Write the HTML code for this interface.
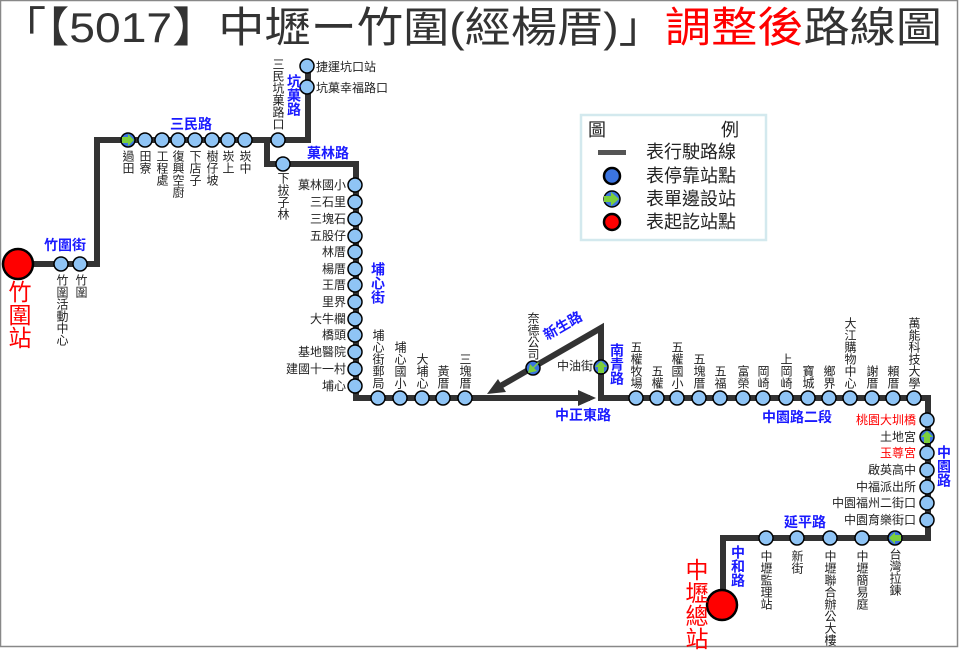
<!DOCTYPE html>
<html><head><meta charset="utf-8"><style>
body{margin:0;background:#fff}
#w{position:relative;width:960px;height:650px;overflow:hidden;background:#fff;font-family:"Liberation Sans","Noto Sans CJK TC",sans-serif;color:#222}
svg{position:absolute;left:0;top:0}
.v{position:absolute;writing-mode:vertical-rl;font-size:12px;line-height:12px;white-space:nowrap}
.h{position:absolute;font-size:12px;line-height:14px;white-space:nowrap}
.r{text-align:right}
.b{color:#1a1aff;font-weight:bold;font-size:14px;line-height:15px}
.red{color:#f00}
</style></head><body><div id="w">
<div style="position:absolute;left:0;top:4px;font-size:42px;line-height:48px;color:#333;white-space:nowrap;transform:scaleX(1.1);transform-origin:left top">「【5017】中壢ー竹圍(經楊厝)」<span style="color:#f00">調整後</span>路線圖</div>
<svg width="960" height="650">
<rect x="0.5" y="0.5" width="957" height="646" fill="none" stroke="#888" stroke-width="1.5"/>
<g fill="none" stroke="#333" stroke-width="6" stroke-linejoin="miter">
<polyline points="18,264 97,264 97,140 308,140 308,66"/>
<polyline points="267,140 267,164 356,164 356,398 590,398"/>
<polyline points="497,388 601,328 601,398 928,398 928,538 723,538 723,605"/>
</g>
<polygon points="596,398 578,390 578,406" fill="#333"/>
<polygon points="487,394 498,379 506,392" fill="#333"/>
<g fill="#8fc4f5" stroke="#000" stroke-width="1.5">
<circle cx="61" cy="264" r="7"/><circle cx="80" cy="264" r="7"/>
<circle cx="145" cy="140" r="7"/><circle cx="162" cy="140" r="7"/><circle cx="178" cy="140" r="7"/><circle cx="195" cy="140" r="7"/><circle cx="212" cy="140" r="7"/><circle cx="228" cy="140" r="7"/><circle cx="245" cy="140" r="7"/>
<circle cx="278" cy="140" r="7"/><circle cx="283" cy="164" r="7"/>
<circle cx="307" cy="66" r="7"/><circle cx="307" cy="87" r="7"/>
<circle cx="355" cy="185" r="7"/><circle cx="355" cy="202" r="7"/><circle cx="355" cy="219" r="7"/><circle cx="355" cy="236" r="7"/><circle cx="355" cy="252" r="7"/><circle cx="355" cy="269" r="7"/><circle cx="355" cy="285" r="7"/><circle cx="355" cy="302" r="7"/><circle cx="355" cy="319" r="7"/><circle cx="355" cy="335" r="7"/><circle cx="355" cy="352" r="7"/><circle cx="355" cy="369" r="7"/><circle cx="355" cy="386" r="7"/>
<circle cx="378" cy="398" r="7"/><circle cx="400" cy="398" r="7"/><circle cx="422" cy="398" r="7"/><circle cx="443" cy="398" r="7"/><circle cx="465" cy="398" r="7"/>
<circle cx="636" cy="398" r="7"/><circle cx="657" cy="398" r="7"/><circle cx="677" cy="398" r="7"/><circle cx="699" cy="398" r="7"/><circle cx="720" cy="398" r="7"/><circle cx="743" cy="398" r="7"/><circle cx="763" cy="398" r="7"/><circle cx="786" cy="398" r="7"/><circle cx="808" cy="398" r="7"/><circle cx="829" cy="398" r="7"/><circle cx="850" cy="398" r="7"/><circle cx="872" cy="398" r="7"/><circle cx="893" cy="398" r="7"/><circle cx="914" cy="398" r="7"/>
<circle cx="927" cy="420" r="7"/><circle cx="927" cy="453" r="7"/><circle cx="927" cy="470" r="7"/><circle cx="927" cy="487" r="7"/><circle cx="927" cy="503" r="7"/><circle cx="927" cy="520" r="7"/>
<circle cx="862" cy="538" r="7"/><circle cx="830" cy="538" r="7"/><circle cx="797" cy="538" r="7"/><circle cx="766" cy="538" r="7"/>
</g>
<g stroke="#000" stroke-width="1.5" fill="#3b74e0">
<circle cx="128" cy="140" r="7"/><circle cx="533" cy="368" r="7"/><circle cx="601" cy="367" r="7"/><circle cx="927" cy="437" r="7"/><circle cx="895" cy="538" r="7"/>
</g>
<g fill="#7ccf3c">
<polygon points="122,137 128,137 128,134 134,140 128,146 128,143 122,143"/>
<polygon points="598,373 598,367 595,367 601,361 607,367 604,367 604,373"/>
<polygon points="924,443 924,437 921,437 927,431 933,437 930,437 930,443"/>
<polygon points="901,535 895,535 895,532 889,538 895,544 895,541 901,541"/>
<polygon points="538,362 533,367 530,364 528,373 537,371 534,368 539,363"/>
</g>
<g stroke="#000" stroke-width="2.5" fill="#f00">
<circle cx="18" cy="264" r="15"/><circle cx="722" cy="605" r="15"/>
</g>
<rect x="581" y="115" width="185" height="125" fill="#fff" stroke="#d3e9ee" stroke-width="2.5"/>
<rect x="598" y="150" width="28" height="5" fill="#555"/>
<circle cx="612" cy="176" r="8" fill="#3b74e0" stroke="#000" stroke-width="2.5"/>
<circle cx="612" cy="199" r="8" fill="#3b74e0" stroke="#000" stroke-width="1.5"/>
<polygon points="604,196 611,196 611,192 619,199 611,206 611,202 604,202" fill="#7ccf3c"/>
<circle cx="612" cy="222" r="8" fill="#f00" stroke="#000" stroke-width="2.5"/>
</svg>
<div class="h" style="left:588px;top:120px;font-size:18px;line-height:20px">圖</div>
<div class="h" style="left:721px;top:120px;font-size:18px;line-height:20px">例</div>
<div class="h" style="left:646px;top:142px;font-size:18px;line-height:20px">表行駛路線</div>
<div class="h" style="left:646px;top:166px;font-size:18px;line-height:20px">表停靠站點</div>
<div class="h" style="left:646px;top:189px;font-size:18px;line-height:20px">表單邊設站</div>
<div class="h" style="left:646px;top:212px;font-size:18px;line-height:20px">表起訖站點</div>

<div class="v red" style="left:6px;top:280px;font-size:23px;line-height:24px">竹圍站</div>
<div class="h b" style="left:44px;top:238px">竹圍街</div>
<div class="v" style="left:56px;top:274px">竹圍活動中心</div>
<div class="v" style="left:75px;top:274px">竹圍</div>
<div class="h b" style="left:170px;top:117px">三民路</div>
<div class="v" style="left:122px;top:150px">過田</div>
<div class="v" style="left:139px;top:150px">田寮</div>
<div class="v" style="left:156px;top:150px">工程處</div>
<div class="v" style="left:172px;top:150px">復興空廚</div>
<div class="v" style="left:189px;top:150px">下店子</div>
<div class="v" style="left:206px;top:150px">樹仔坡</div>
<div class="v" style="left:222px;top:150px">崁上</div>
<div class="v" style="left:239px;top:150px">崁中</div>
<div class="v" style="left:272px;top:58px">三民坑菓路口</div>
<div class="v b" style="left:286px;top:74px;line-height:15px">坑菓路</div>
<div class="h" style="left:316px;top:60px">捷運坑口站</div>
<div class="h" style="left:316px;top:81px">坑菓幸福路口</div>
<div class="h b" style="left:307px;top:146px">菓林路</div>
<div class="v" style="left:277px;top:172px">下拔子林</div>
<div class="h r" style="right:614px;top:178px">菓林國小</div>
<div class="h r" style="right:614px;top:195px">三石里</div>
<div class="h r" style="right:614px;top:212px">三塊石</div>
<div class="h r" style="right:614px;top:229px">五股仔</div>
<div class="h r" style="right:614px;top:245px">林厝</div>
<div class="h r" style="right:614px;top:262px">楊厝</div>
<div class="h r" style="right:614px;top:278px">王厝</div>
<div class="h r" style="right:614px;top:295px">里界</div>
<div class="h r" style="right:614px;top:312px">大牛欄</div>
<div class="h r" style="right:614px;top:328px">橋頭</div>
<div class="h r" style="right:614px;top:345px">基地醫院</div>
<div class="h r" style="right:614px;top:362px">建國十一村</div>
<div class="h r" style="right:614px;top:379px">埔心</div>
<div class="v b" style="left:370px;top:262px;line-height:15px">埔心街</div>
<div class="v" style="left:372px;bottom:261px">埔心街郵局</div>
<div class="v" style="left:394px;bottom:261px">埔心國小</div>
<div class="v" style="left:416px;bottom:261px">大埔心</div>
<div class="v" style="left:437px;bottom:261px">黃厝</div>
<div class="v" style="left:459px;bottom:261px">三塊厝</div>
<div class="v" style="left:527px;top:312px">奈德公司</div>
<div class="h b" style="left:541px;top:330px;transform:rotate(-30deg);transform-origin:left top">新生路</div>
<div class="h r" style="right:367px;top:359px">中油街</div>
<div class="v b" style="left:609px;top:343px;line-height:15px">南青路</div>
<div class="h b" style="left:555px;top:408px">中正東路</div>
<div class="v" style="left:630px;bottom:261px">五權牧場</div>
<div class="v" style="left:651px;bottom:261px">五權</div>
<div class="v" style="left:671px;bottom:261px">五權國小</div>
<div class="v" style="left:693px;bottom:261px">五塊厝</div>
<div class="v" style="left:714px;bottom:261px">五福</div>
<div class="v" style="left:737px;bottom:261px">富榮</div>
<div class="v" style="left:757px;bottom:261px">岡崎</div>
<div class="v" style="left:780px;bottom:261px">上岡崎</div>
<div class="v" style="left:802px;bottom:261px">寶城</div>
<div class="v" style="left:823px;bottom:261px">鄉界</div>
<div class="v" style="left:844px;bottom:261px">大江購物中心</div>
<div class="v" style="left:866px;bottom:261px">謝厝</div>
<div class="v" style="left:887px;bottom:261px">賴厝</div>
<div class="v" style="left:908px;bottom:261px">萬能科技大學</div>
<div class="h b" style="left:762px;top:410px">中園路二段</div>
<div class="h r red" style="right:44px;top:413px">桃園大圳橋</div>
<div class="h r" style="right:44px;top:430px">土地宮</div>
<div class="h r red" style="right:44px;top:446px">玉尊宮</div>
<div class="h r" style="right:44px;top:463px">啟英高中</div>
<div class="h r" style="right:44px;top:480px">中福派出所</div>
<div class="h r" style="right:44px;top:496px">中園福州二街口</div>
<div class="h r" style="right:44px;top:513px">中園育樂街口</div>
<div class="v b" style="left:936px;top:445px;line-height:15px">中園路</div>
<div class="h b" style="left:784px;top:515px">延平路</div>
<div class="v" style="left:889px;top:548px">台灣拉鍊</div>
<div class="v" style="left:856px;top:550px">中壢簡易庭</div>
<div class="v" style="left:824px;top:550px">中壢聯合辦公大樓</div>
<div class="v" style="left:791px;top:550px">新街</div>
<div class="v" style="left:760px;top:550px">中壢監理站</div>
<div class="v b" style="left:730px;top:545px;line-height:15px">中和路</div>
<div class="v red" style="left:683px;top:558px;font-size:23px;line-height:24px">中壢總站</div>
</div></body></html>
